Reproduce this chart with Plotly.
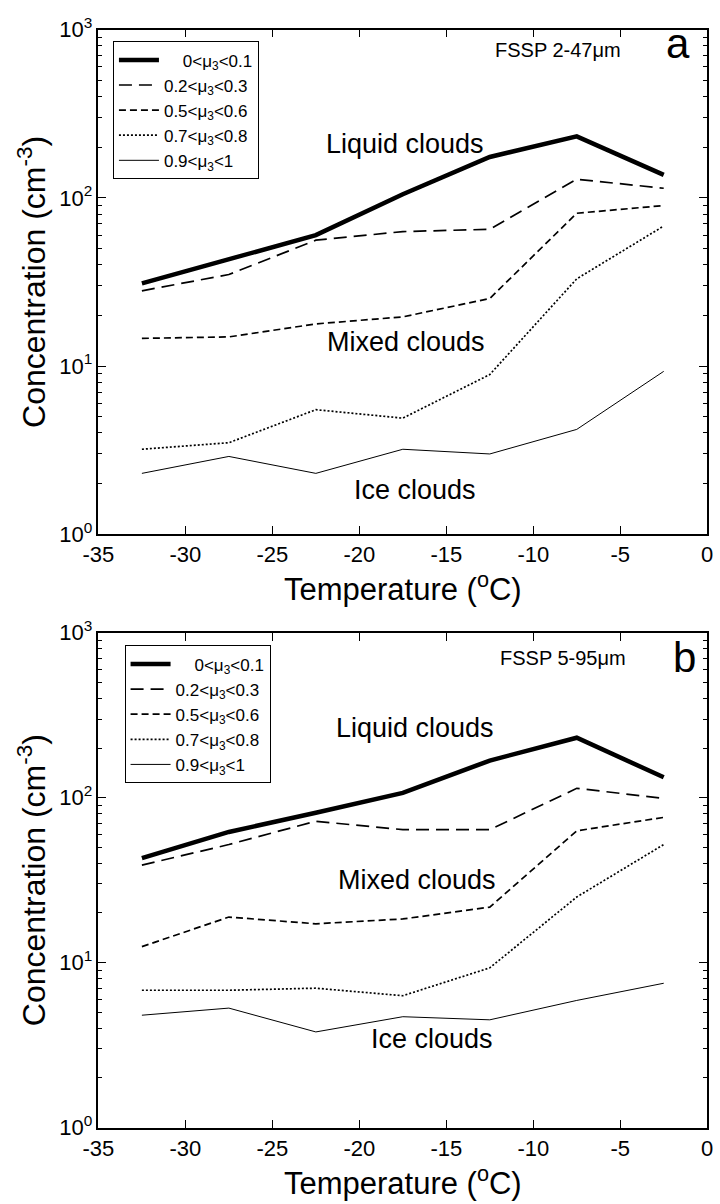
import plotly.graph_objects as go

temps = [-32.5, -27.5, -22.5, -17.5, -12.5, -7.5, -2.5]
NB = "\u00a0"
series_names = [NB * 4 + "0&lt;μ<sub>3</sub>&lt;0.1", "0.2&lt;μ<sub>3</sub>&lt;0.3", "0.5&lt;μ<sub>3</sub>&lt;0.6",
                "0.7&lt;μ<sub>3</sub>&lt;0.8", "0.9&lt;μ<sub>3</sub>&lt;1"]

# Panel a: FSSP 2-47 um
a_mu01 = [31, 43, 60, 105, 175, 232, 137]
a_mu23 = [28, 35, 56, 63, 65, 129, 114]
a_mu56 = [14.6, 14.9, 17.8, 19.6, 25.2, 81, 90]
a_mu78 = [3.2, 3.5, 5.5, 4.9, 8.9, 33, 68]
a_mu91 = [2.3, 2.9, 2.3, 3.2, 3.0, 4.2, 9.3]

# Panel b: FSSP 5-95 um
b_mu01 = [43, 62, 81, 107, 168, 231, 133]
b_mu23 = [39, 52, 72, 64, 64, 114, 99]
b_mu56 = [12.5, 18.9, 17.2, 18.4, 21.7, 63, 76]
b_mu78 = [6.8, 6.8, 7.0, 6.3, 9.3, 25, 52]
b_mu91 = [4.8, 5.3, 3.8, 4.7, 4.5, 5.9, 7.5]

x_ticks = [-35, -30, -25, -20, -15, -10, -5, 0]
x_ticktext = [str(t) for t in x_ticks]
y_decades = [1, 10, 100, 1000]
y_ticktext = ["10<sup>0</sup>", "10<sup>1</sup>", "10<sup>2</sup>", "10<sup>3</sup>"]
y_minor = [m * d for d in y_decades[:-1] for m in range(2, 10)]

FONT = "Liberation Sans, Arial, sans-serif"
styles = [dict(width=4.5, dash="solid"),
          dict(width=1.7, dash="13px,7px"),
          dict(width=1.7, dash="7px,4px"),
          dict(width=1.7, dash="2px,2px"),
          dict(width=1, dash="solid")]

fig = go.Figure()

panels = [
    ("x", "y", "legend", [a_mu01, a_mu23, a_mu56, a_mu78, a_mu91]),
    ("x2", "y2", "legend2", [b_mu01, b_mu23, b_mu56, b_mu78, b_mu91]),
]
for xa, ya, lg, data in panels:
    for name, vals, st in zip(series_names, data, styles):
        fig.add_trace(go.Scatter(x=temps, y=vals, mode="lines", name=name,
                                 line=dict(color="black", width=st["width"], dash=st["dash"]),
                                 xaxis=xa, yaxis=ya, legend=lg))

H = 1204.0
W = 720.0
xdom = [85 / W, 713 / W]
a_dom = [1 - 531 / H, 1 - 14 / H]
b_dom = [1 - 1139 / H, 1 - 632 / H]

def xaxis_cfg(anchor):
    return dict(domain=xdom, anchor=anchor, range=[-35, 0], tickmode="array",
                tickvals=x_ticks, ticktext=x_ticktext, ticks="inside", ticklen=8,
                tickcolor="black", showline=True, linecolor="black", linewidth=1.5,
                mirror="allticks", showgrid=False, zeroline=False,
                tickfont=dict(family=FONT, size=22, color="black"),
                title=dict(text="Temperature (<sup>o</sup>C)",
                           font=dict(family=FONT, size=31, color="black"), standoff=1))

def yaxis_cfg(anchor, dom):
    return dict(domain=dom, anchor=anchor, type="log", range=[0, 3],
                tickmode="array", tickvals=y_decades, ticktext=y_ticktext,
                ticks="inside", ticklen=8, tickcolor="black",
                minor=dict(ticks="inside", ticklen=4, tickcolor="black",
                           tickmode="array", tickvals=y_minor, showgrid=False),
                showline=True, linecolor="black", linewidth=1.5, mirror="allticks",
                showgrid=False, zeroline=False,
                tickfont=dict(family=FONT, size=22, color="black"),
                title=dict(text="Concentration (cm<sup>-3</sup>)",
                           font=dict(family=FONT, size=32, color="black"), standoff=4))

legend_common = dict(bgcolor="white", bordercolor="black", borderwidth=1,
                     font=dict(family=FONT, size=17, color="black"),
                     xanchor="left", yanchor="top", itemwidth=40, tracegroupgap=0,
                     traceorder="normal")

fig.update_layout(
    width=720, height=1204,
    margin=dict(l=0, r=0, t=0, b=0),
    paper_bgcolor="white", plot_bgcolor="white",
    xaxis=xaxis_cfg("y"), yaxis=yaxis_cfg("x", a_dom),
    xaxis2=xaxis_cfg("y2"), yaxis2=yaxis_cfg("x2", b_dom),
    legend=dict(x=100 / W, y=1 - 26 / H, **legend_common),
    legend2=dict(x=112 / W, y=1 - 645 / H, **legend_common),
    showlegend=True,
)

ann = [
    ("x", "y", -17.4, 2.32, "Liquid clouds", 27),
    ("x", "y", -17.3, 1.14, "Mixed clouds", 27),
    ("x", "y", -16.8, 0.26, "Ice clouds", 27),
    ("x", "y", -8.6, 2.88, "FSSP 2-47μm", 20),
    ("x", "y", -1.7, 2.92, "a", 42),
    ("x2", "y2", -16.8, 2.42, "Liquid clouds", 27),
    ("x2", "y2", -16.7, 1.50, "Mixed clouds", 27),
    ("x2", "y2", -15.8, 0.54, "Ice clouds", 27),
    ("x2", "y2", -8.3, 2.85, "FSSP 5-95μm", 20),
    ("x2", "y2", -1.3, 2.85, "b", 42),
]
for xr, yr, xv, yv, txt, sz in ann:
    fig.add_annotation(x=xv, y=yv, xref=xr, yref=yr, text=txt, showarrow=False,
                       font=dict(family=FONT, size=sz, color="black"))

fig.write_html("out.html")
